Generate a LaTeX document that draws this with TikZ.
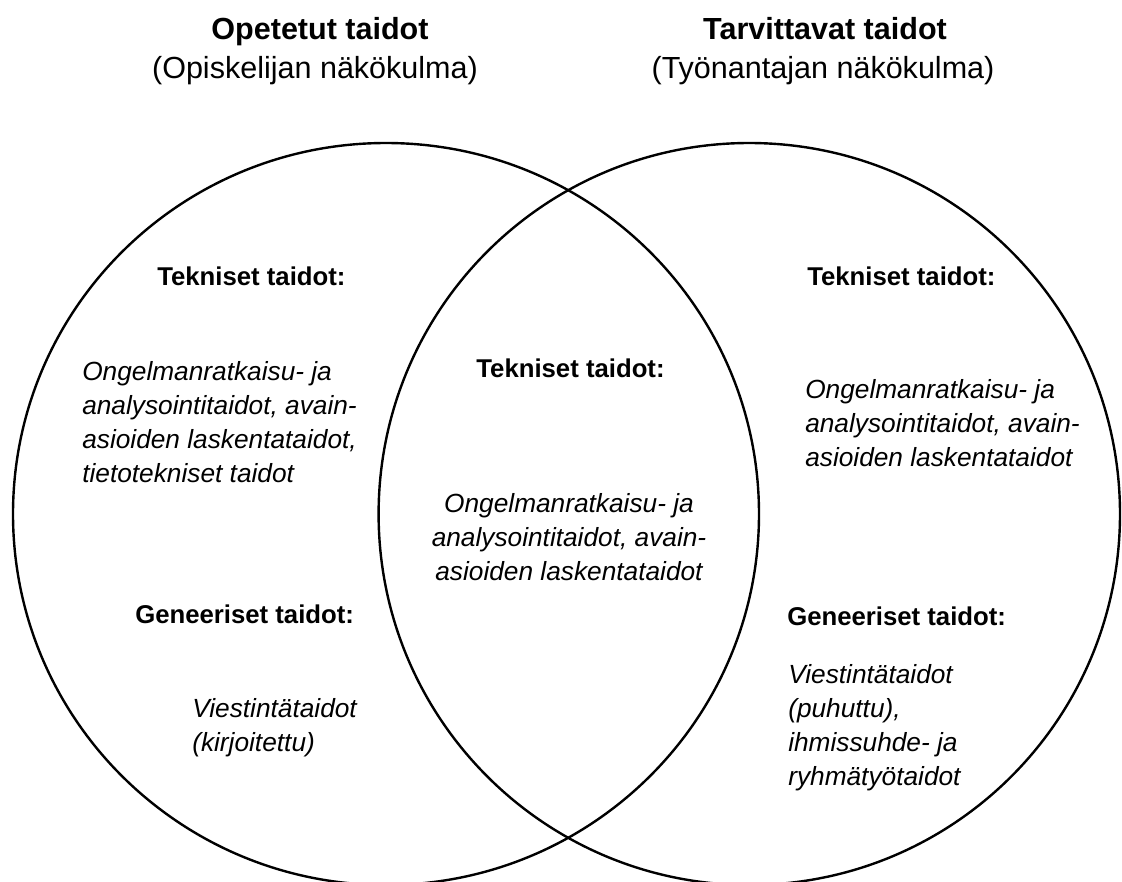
\documentclass[tikz,border=0pt]{standalone}
\usepackage{fontspec}
\setmainfont{Liberation Sans}

% stacked lines whose baseline is that of the first line
\newcommand\leftstack[1]{\vtop{\baselineskip=25.5pt\lineskiplimit=-10pt\halign{##\hfil\cr#1\crcr}}}
\newcommand\midstack[1]{\vtop{\baselineskip=25.5pt\lineskiplimit=-10pt\halign{\hfil##\hfil\cr#1\crcr}}}

\begin{document}
\begin{tikzpicture}[x=0.75pt, y=-0.75pt,
  ring/.style={line width=1.8pt, draw=black},
  title/.style={inner sep=0pt, anchor=base, font=\fontsize{22.9}{27}\selectfont\bfseries},
  subtitle/.style={inner sep=0pt, anchor=base, font=\fontsize{22.9}{27}\selectfont},
  heading/.style={inner sep=0pt, font=\fontsize{19.3}{23}\selectfont\bfseries},
  body/.style={inner sep=0pt, font=\fontsize{19.7}{25.5}\selectfont\itshape}]

  \fill[white] (0,0) rectangle (1122,882);
  \useasboundingbox (0,0) rectangle (1122,882);

  % the two overlapping sets
  \draw[ring] (386,514) ellipse [x radius=373, y radius=371];
  \draw[ring] (749.3,514) ellipse [x radius=370.7, y radius=371];

  % set titles
  \node[title]    (ltitle) at (320,39) {Opetetut taidot};
  \node[subtitle] (lsub)   at (315,78) {(Opiskelijan näkökulma)};
  \node[title]    (rtitle) at (825,39) {Tarvittavat taidot};
  \node[subtitle] (rsub)   at (823,78) {(Työnantajan näkökulma)};

  % left set
  \node[heading, anchor=base west] (ltech) at (157,285) {Tekniset taidot:};
  \node[body, anchor=base west] (ltechlist) at (82,380)
    {\leftstack{Ongelmanratkaisu- ja\cr analysointitaidot, avain-\cr asioiden laskentataidot,\cr tietotekniset taidot}};
  \node[heading, anchor=base west] (lgen) at (135,623) {Geneeriset taidot:};
  \node[body, anchor=base west] (lgenlist) at (192,717)
    {\leftstack{Viestintätaidot\cr (kirjoitettu)}};

  % intersection
  \node[heading, anchor=base] (mtech) at (570.5,377) {Tekniset taidot:};
  \node[body, anchor=base] (mtechlist) at (569,512)
    {\midstack{Ongelmanratkaisu- ja\cr analysointitaidot, avain-\cr asioiden laskentataidot}};

  % right set
  \node[heading, anchor=base west] (rtech) at (807,285) {Tekniset taidot:};
  \node[body, anchor=base west] (rtechlist) at (805,398)
    {\leftstack{Ongelmanratkaisu- ja\cr analysointitaidot, avain-\cr asioiden laskentataidot}};
  \node[heading, anchor=base west] (rgen) at (787,625) {Geneeriset taidot:};
  \node[body, anchor=base west] (rgenlist) at (788,683)
    {\leftstack{Viestintätaidot\cr (puhuttu),\cr ihmissuhde- ja\cr ryhmätyötaidot}};
\end{tikzpicture}
\end{document}
